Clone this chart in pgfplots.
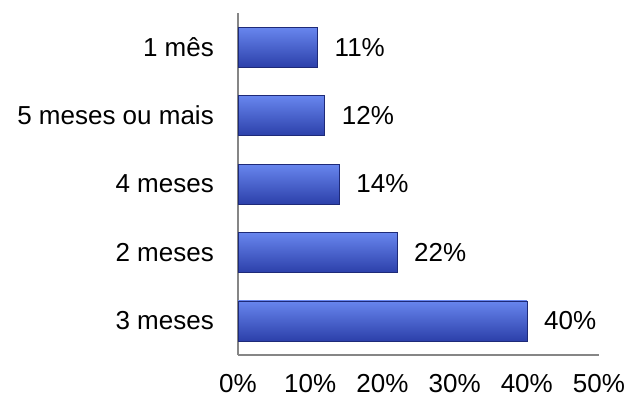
\documentclass[border=0pt]{standalone}
\usepackage{pgfplots}
\pgfplotsset{compat=1.18}
\usepackage{fontspec}
\setmainfont{Liberation Sans}
\definecolor{axgray}{RGB}{134,134,134}
\definecolor{bartop}{RGB}{104,134,238}
\definecolor{barmid}{RGB}{60,90,214}
\definecolor{barbot}{RGB}{44,64,170}
\definecolor{baredge}{RGB}{30,42,120}
\begin{document}
\fontsize{26bp}{31bp}\selectfont
\begin{tikzpicture}[x=1bp,y=1bp]
\path[use as bounding box] (0,0) rectangle (643,398);
\begin{axis}[
  at={(238bp,43bp)}, anchor=south west,
  width=361bp, height=342bp, scale only axis,
  xbar, bar width=40bp, bar shift=0pt,
  xmin=0, xmax=50, ymin=-0.5, ymax=4.5,
  axis lines*=left,
  axis line style={axgray, line width=1.2bp},
  xtick={0,10,20,30,40,50},
  xticklabels={0\%,10\%,20\%,30\%,40\%,50\%},
  ytick={0,1,2,3,4},
  yticklabels={3 meses,2 meses,4 meses,5 meses ou mais,1 mês},
  major tick length=0pt,
  tick label style={font=\fontsize{26bp}{31bp}\selectfont, inner sep=0pt},
  xticklabel style={yshift=-19bp},
  yticklabel style={xshift=-24bp},
  point meta=x,
  /pgf/number format/assume math mode=true,
  nodes near coords={\pgfmathprintnumber{\pgfplotspointmeta}\%},
  every node near coord/.append style={font=\fontsize{26bp}{31bp}\selectfont, anchor=west, inner sep=0pt, xshift=17bp, text=black},
  barstyle/.style={draw=baredge, line width=0.6bp, top color=bartop, middle color=barmid, bottom color=barbot},
]
\addplot[barstyle] coordinates {(40,0)};
\addplot[barstyle] coordinates {(22,1)};
\addplot[barstyle] coordinates {(14,2)};
\addplot[barstyle] coordinates {(12,3)};
\addplot[barstyle] coordinates {(11,4)};
\end{axis}
\end{tikzpicture}
\end{document}
